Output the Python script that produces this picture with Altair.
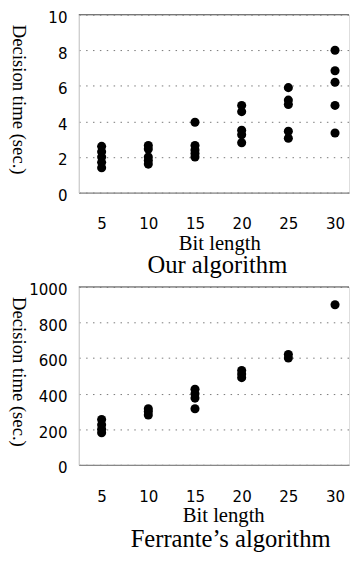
import altair as alt
import pandas as pd

bits = [5, 10, 15, 20, 25, 30]

ours_times = [
    [2.6, 2.3, 2.0, 1.7, 1.4],
    [2.65, 2.45, 2.0, 1.8, 1.6],
    [3.95, 2.65, 2.4, 2.2, 2.0],
    [4.9, 4.55, 3.5, 3.25, 2.8],
    [5.9, 5.2, 4.95, 3.45, 3.05],
    [8.0, 6.85, 6.2, 4.9, 3.35],
]

ferrante_times = [
    [255, 225, 200, 180],
    [315, 300, 280],
    [425, 400, 375, 315],
    [530, 510, 490],
    [620, 600],
    [900],
]

ours_ticks = [0, 2, 4, 6, 8, 10]
ferrante_ticks = [0, 200, 400, 600, 800, 1000]

W = 275
H = 181
LABEL_FONT = "Liberation Sans Narrow, DejaVu Sans Condensed, Liberation Sans, sans-serif"
SERIF = "Liberation Serif"


def to_df(times):
    rows = []
    for b, vals in zip(bits, times):
        for v in vals:
            rows.append({"bits": b, "time": v})
    return pd.DataFrame(rows)


def panel(times, ymax, yticks, title, title_dx, xtitle_x, title_offset):
    df = to_df(times)
    x = alt.X(
        "bits:Q",
        scale=alt.Scale(domain=[2.55, 31.5], nice=False, zero=False),
        axis=alt.Axis(
            values=bits, grid=False, ticks=False, domain=True,
            domainColor="#888", domainWidth=1.2, labelOverlap=False,
            labelFont=LABEL_FONT, labelFontSize=17, labelColor="black",
            labelPadding=24,
            title="Bit length", titleFont=SERIF, titleFontSize=21,
            titleFontWeight="normal", titleColor="black",
            titleX=xtitle_x, titleY=52, titleBaseline="middle",
            titleAlign="center",
        ),
    )
    y_scale = alt.Scale(domain=[0, ymax], nice=False)
    y_axis = alt.Axis(
        values=yticks, format="d", grid=True, gridDash=[1.5, 5.5],
        gridColor="#777", gridWidth=1, ticks=False, domain=True,
        domainColor="#c8c8c8", labelOverlap=False,
        labelFont=LABEL_FONT, labelFontSize=17, labelColor="black",
        labelPadding=12, labelOffset=3,
        title="Decision time (sec.)", titleFont=SERIF, titleFontSize=19,
        titleFontWeight="normal", titleColor="black", titleAngle=90,
        titleX=-61, titleY=86, titleAlign="center",
        titleBaseline="middle",
    )
    pts = alt.Chart(df).mark_circle(size=85, color="black", opacity=1).encode(
        x=x, y=alt.Y("time:Q", scale=y_scale, axis=y_axis)
    )
    df_top = pd.DataFrame({"time": [ymax]})
    top = alt.Chart(df_top).mark_rule(color="#777", strokeWidth=1.2).encode(
        y=alt.Y("time:Q", scale=y_scale, axis=y_axis),
        x=alt.value(0), x2=alt.value(W),
    )
    return alt.layer(pts, top).properties(
        width=W, height=H,
        title=alt.TitleParams(
            title, orient="bottom", font=SERIF, fontSize=25,
            fontWeight="normal", color="black", anchor="middle",
            frame="group", dx=title_dx, offset=title_offset,
        ),
    )


c1 = panel(ours_times, 10, ours_ticks, "Our algorithm", 3.5, 143, 0)
c2 = panel(ferrante_times, 1000, ferrante_ticks, "Ferrante\u2019s algorithm", 17, 147, 2)

chart = alt.vconcat(c1, c2, spacing=1).properties(
    padding={"left": 0, "top": -5, "right": 0, "bottom": 0}
).configure_view(stroke=None).configure(background="white")

chart.save("out.html", embed_options={"renderer": "svg", "actions": False})
